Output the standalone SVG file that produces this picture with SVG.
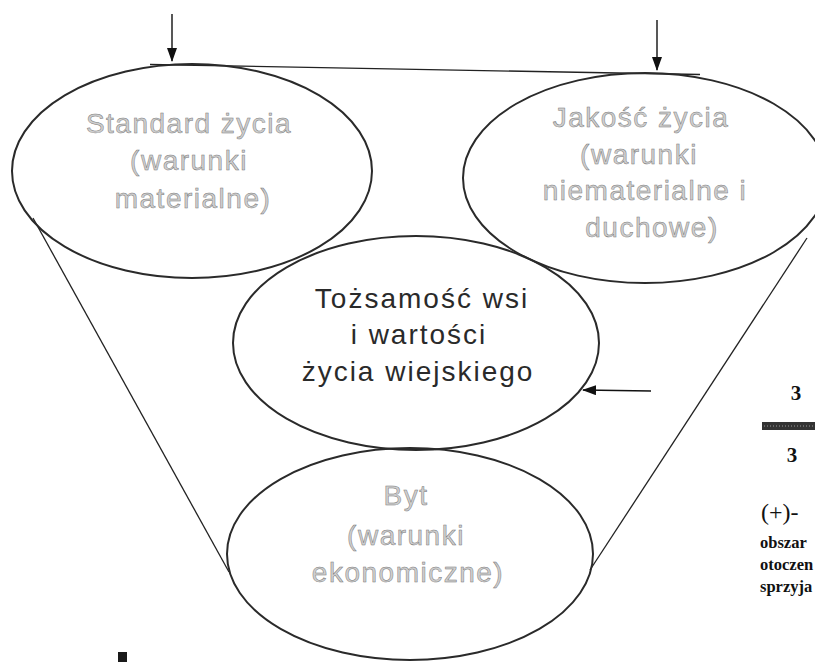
<svg xmlns="http://www.w3.org/2000/svg" width="815" height="662" viewBox="0 0 815 662">
<defs>
<marker id="ah" markerWidth="14" markerHeight="10" refX="13" refY="5" orient="auto" markerUnits="userSpaceOnUse">
<path d="M0,0 L14,5 L0,10 Z" fill="#111"/>
</marker>
<style>
.ell{fill:none;stroke:#2a2a2a;stroke-width:2}
.con{fill:none;stroke:#222;stroke-width:1.3}
.arr{fill:none;stroke:#111;stroke-width:1.4}
.gt{font-family:"Liberation Sans",Arial,sans-serif;font-size:28px;letter-spacing:1.5px;fill:#cfcfcf;stroke:#7a7a7a;stroke-width:0.5;text-anchor:middle}
.dt{font-family:"Liberation Sans",Arial,sans-serif;font-size:28px;letter-spacing:2px;fill:#2a2a2a;text-anchor:middle}
.rt{font-family:"Liberation Serif","Times New Roman",serif;fill:#111;font-weight:bold}
</style>
</defs>
<rect width="815" height="662" fill="#fff"/>
<g id="connectors">
<line class="con" x1="150" y1="64.5" x2="700" y2="74.5"/>
<line class="con" x1="33" y1="218" x2="229" y2="572"/>
<line class="con" x1="807" y1="238" x2="590" y2="570"/>
<line class="arr" x1="172" y1="14" x2="172" y2="61" marker-end="url(#ah)"/>
<line class="arr" x1="657" y1="20" x2="657" y2="70" marker-end="url(#ah)"/>
<line class="arr" x1="651" y1="391" x2="583" y2="390" marker-end="url(#ah)"/>
</g>
<g id="standard">
<ellipse class="ell" cx="192" cy="171" rx="180" ry="107"/>
<text class="gt" x="189" y="133">Standard życia</text>
<text class="gt" x="189" y="170">(warunki</text>
<text class="gt" x="193" y="208">materialne)</text>
</g>
<g id="jakosc">
<ellipse class="ell" cx="645" cy="178" rx="182" ry="105"/>
<text class="gt" x="641" y="127">Jakość życia</text>
<text class="gt" x="639" y="164">(warunki</text>
<text class="gt" x="645" y="200">niematerialne i</text>
<text class="gt" x="652" y="237">duchowe)</text>
</g>
<g id="tozsamosc">
<ellipse class="ell" cx="416" cy="343" rx="183" ry="107"/>
<text class="dt" x="422" y="308">Tożsamość wsi</text>
<text class="dt" x="419" y="344">i wartości</text>
<text class="dt" x="418" y="381">życia wiejskiego</text>
</g>
<g id="byt">
<ellipse class="ell" cx="410" cy="554" rx="183" ry="106"/>
<text class="gt" x="406" y="505">Byt</text>
<text class="gt" x="406" y="545">(warunki</text>
<text class="gt" x="408" y="582">ekonomiczne)</text>
</g>
<g id="legend">
<text class="rt" x="796" y="400" font-size="21" text-anchor="middle">3</text>
<rect x="762" y="422" width="53" height="8" fill="#333"/>
<line x1="764" y1="426" x2="815" y2="426" stroke="#999" stroke-width="1" stroke-dasharray="1 2"/>
<text class="rt" x="792" y="462" font-size="21" text-anchor="middle">3</text>
<text x="761" y="520" font-family="Liberation Serif,'Times New Roman',serif" font-size="24" fill="#111">(+)-</text>
<text class="rt" x="760" y="548" font-size="16.5">obszar</text>
<text class="rt" x="760" y="570" font-size="16.5">otoczen</text>
<text class="rt" x="760" y="592" font-size="16.5">sprzyja</text>
</g>
<rect x="118" y="652" width="9" height="10" fill="#1a1a1a"/>
</svg>
